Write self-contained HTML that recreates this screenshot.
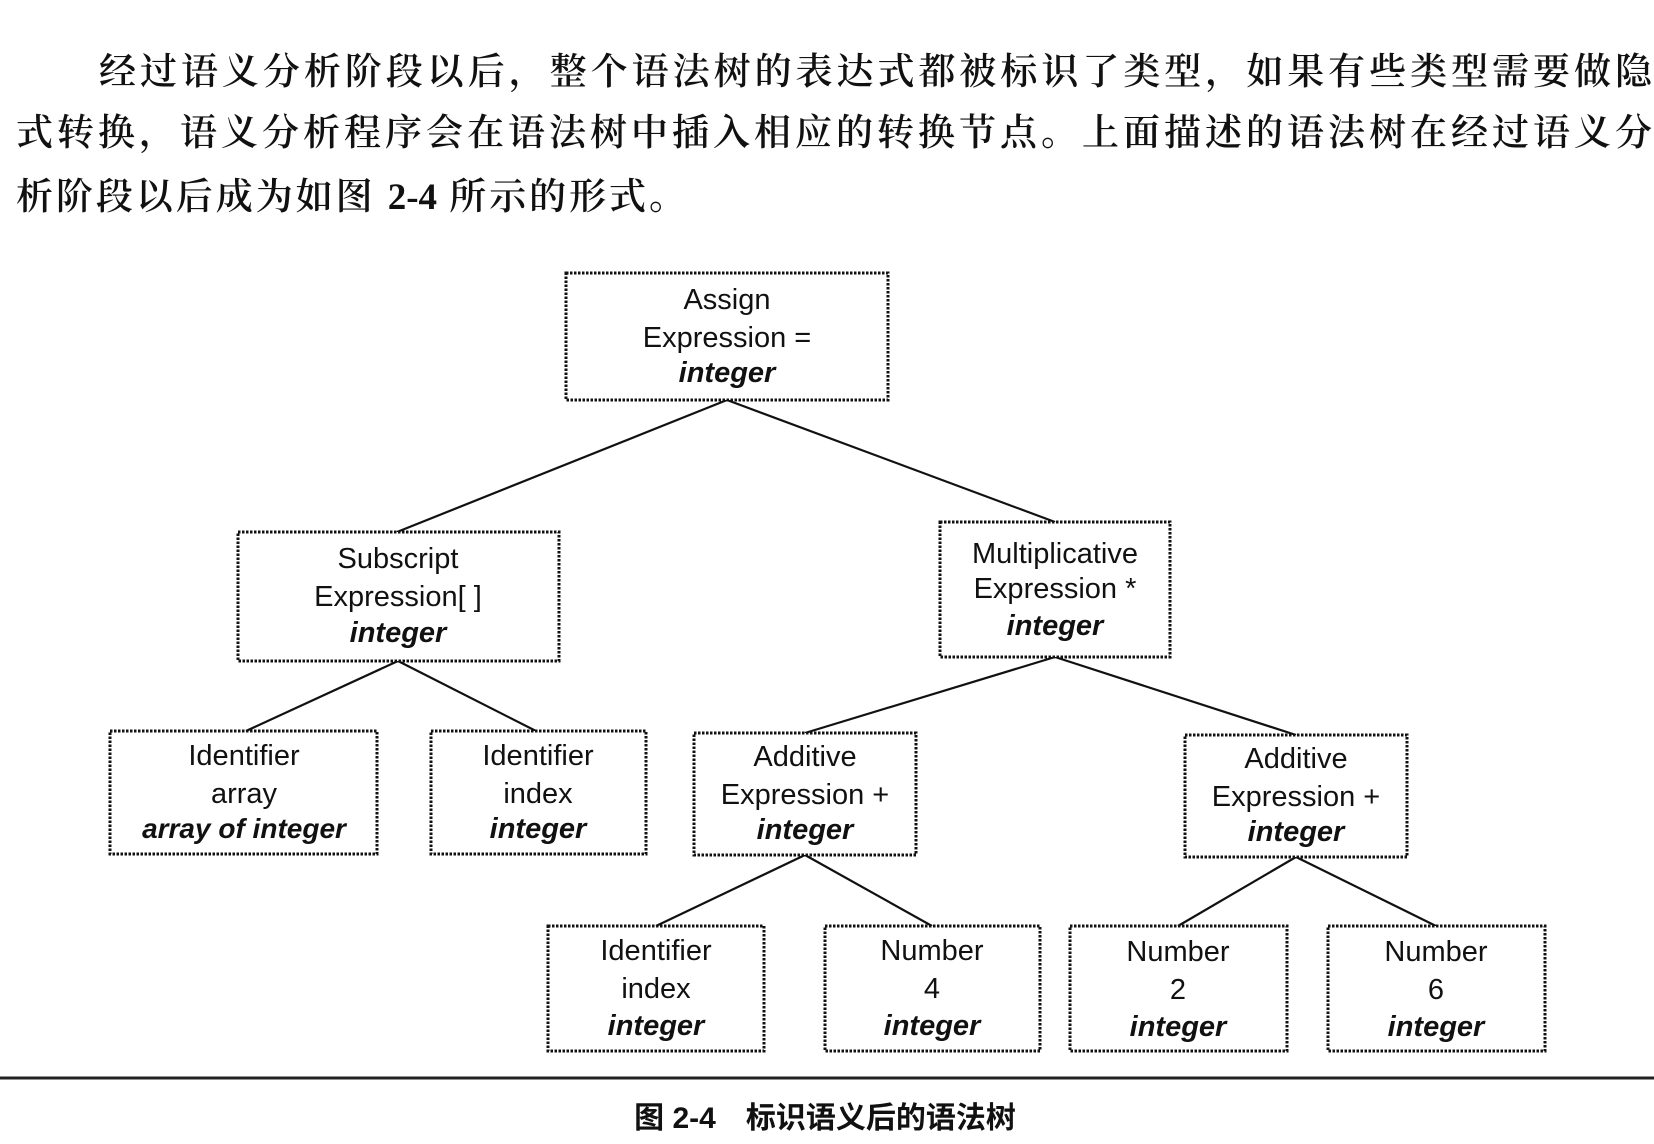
<!DOCTYPE html>
<html><head><meta charset="utf-8"><style>
html,body{margin:0;padding:0;background:#fff;}
body{width:1654px;height:1144px;position:relative;overflow:hidden;font-family:"Liberation Serif","Noto Serif CJK SC","Noto Sans CJK SC",serif;color:#111;}
.l{position:absolute;font-size:37px;line-height:44px;white-space:nowrap;text-align:justify;text-align-last:justify;font-weight:600;}
</style></head><body>
<div class="l" style="left:99px;top:51px;width:1553px;">经过语义分析阶段以后，整个语法树的表达式都被标识了类型，如果有些类型需要做隐</div>
<div class="l" style="left:16px;top:112px;width:1636px;">式转换，语义分析程序会在语法树中插入相应的转换节点。上面描述的语法树在经过语义分</div>
<div class="l" style="left:16px;top:176px;width:670px;">析阶段以后成为如图 2-4 所示的形式。</div>
<svg width="1654" height="1144" style="position:absolute;left:0;top:0" xmlns="http://www.w3.org/2000/svg">
<g stroke="#111" stroke-width="2.2" fill="none">
<line x1="727" y1="400" x2="397" y2="532"/>
<line x1="727" y1="400" x2="1055" y2="522"/>
<line x1="398" y1="661" x2="246" y2="731"/>
<line x1="398" y1="661" x2="536" y2="731"/>
<line x1="1055" y1="657" x2="805" y2="733"/>
<line x1="1055" y1="657" x2="1296" y2="735"/>
<line x1="805" y1="855" x2="656" y2="926"/>
<line x1="805" y1="855" x2="932" y2="926"/>
<line x1="1296" y1="857" x2="1178" y2="926"/>
<line x1="1296" y1="857" x2="1436" y2="926"/>
</g>
<g stroke="#111" stroke-width="3" stroke-dasharray="2.5 1.5" fill="#fff">
<rect x="566" y="273" width="322" height="127"/>
<rect x="238" y="532" width="321" height="129"/>
<rect x="940" y="522" width="230" height="135"/>
<rect x="110" y="731" width="267" height="123"/>
<rect x="431" y="731" width="215" height="123"/>
<rect x="694" y="733" width="222" height="122"/>
<rect x="1185" y="735" width="222" height="122"/>
<rect x="548" y="926" width="216" height="125"/>
<rect x="825" y="926" width="215" height="125"/>
<rect x="1070" y="926" width="217" height="125"/>
<rect x="1328" y="926" width="217" height="125"/>
</g>
<g font-family="Liberation Sans, sans-serif" font-size="29" fill="#111" text-anchor="middle">
<text x="727" y="309">Assign</text><text x="727" y="347">Expression =</text><text x="727" y="382" font-weight="bold" font-style="italic">integer</text>
<text x="398" y="568">Subscript</text><text x="398" y="606">Expression[ ]</text><text x="398" y="642" font-weight="bold" font-style="italic">integer</text>
<text x="1055" y="563">Multiplicative</text><text x="1055" y="598">Expression *</text><text x="1055" y="635" font-weight="bold" font-style="italic">integer</text>
<text x="244" y="765">Identifier</text><text x="244" y="803">array</text><text x="244" y="838" font-weight="bold" font-style="italic" font-size="28">array of integer</text>
<text x="538" y="765">Identifier</text><text x="538" y="803">index</text><text x="538" y="838" font-weight="bold" font-style="italic">integer</text>
<text x="805" y="766">Additive</text><text x="805" y="804">Expression +</text><text x="805" y="839" font-weight="bold" font-style="italic">integer</text>
<text x="1296" y="768">Additive</text><text x="1296" y="806">Expression +</text><text x="1296" y="841" font-weight="bold" font-style="italic">integer</text>
<text x="656" y="960">Identifier</text><text x="656" y="998">index</text><text x="656" y="1035" font-weight="bold" font-style="italic">integer</text>
<text x="932" y="960">Number</text><text x="932" y="998">4</text><text x="932" y="1035" font-weight="bold" font-style="italic">integer</text>
<text x="1178" y="961">Number</text><text x="1178" y="999">2</text><text x="1178" y="1036" font-weight="bold" font-style="italic">integer</text>
<text x="1436" y="961">Number</text><text x="1436" y="999">6</text><text x="1436" y="1036" font-weight="bold" font-style="italic">integer</text>
</g>
<line x1="0" y1="1078" x2="1654" y2="1078" stroke="#222" stroke-width="3"/>
<text x="825" y="1128" text-anchor="middle" font-family="Liberation Sans, Noto Sans CJK SC, sans-serif" font-size="30" font-weight="bold" fill="#111">图 2-4　标识语义后的语法树</text>
</svg>
</body></html>
